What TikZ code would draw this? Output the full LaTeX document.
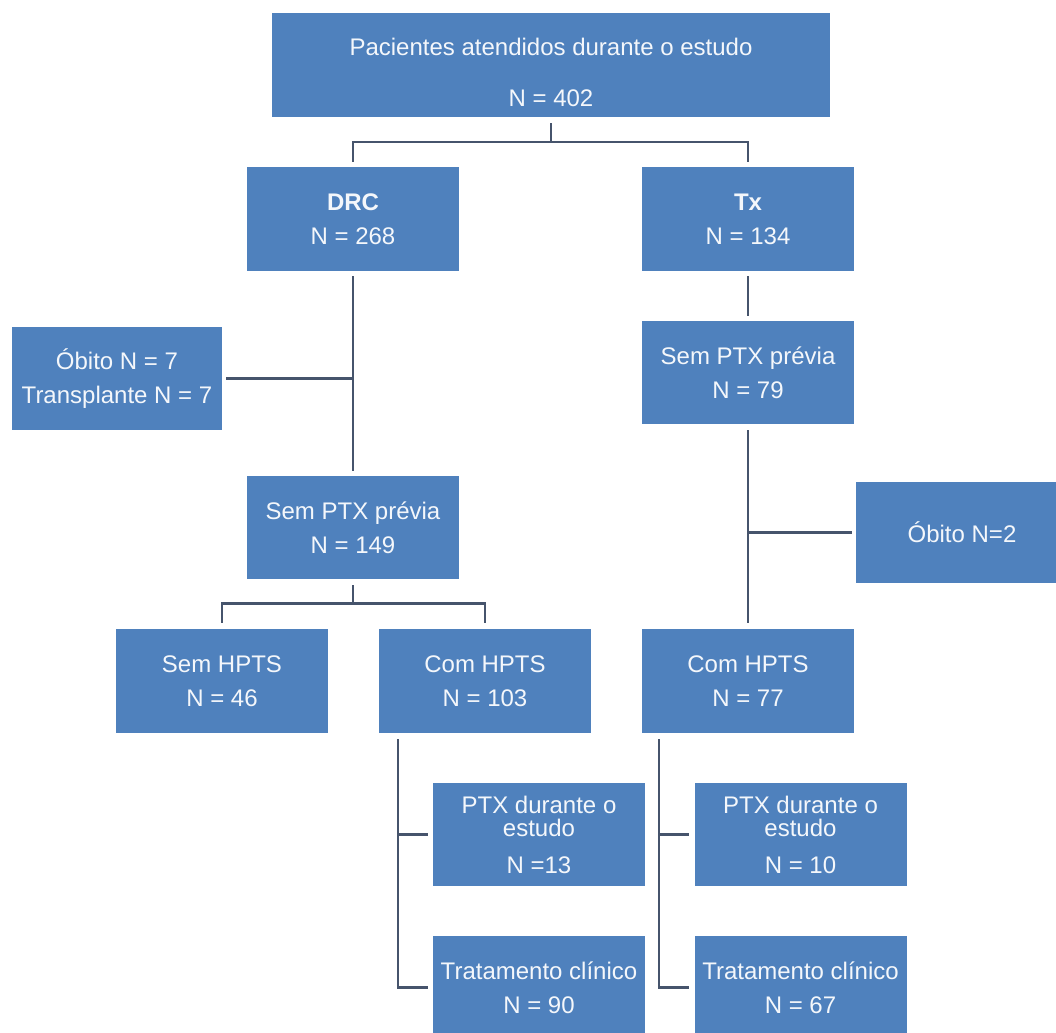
\documentclass[tikz,border=0pt]{standalone}
\usepackage{fontspec}
\setmainfont{Liberation Sans}
\definecolor{boxblue}{RGB}{79, 129, 189}
\definecolor{linkgray}{RGB}{70, 84, 108}
\definecolor{boxtext}{RGB}{244, 247, 251}
\usetikzlibrary{positioning, calc}

\begin{document}
\begin{tikzpicture}[x=1pt, y=-1pt,
    flowbox/.style={fill=boxblue, draw=none, minimum width=212pt, minimum height=104pt,
      inner sep=0pt, align=center, text=boxtext, font=\fontsize{24}{34}\selectfont},
    link/.style={draw=linkgray, line width=2.6pt}]
  \useasboundingbox (0,0) rectangle (1056,1032);
  \clip (0,0) rectangle (1056,1032);

  % boxes
  \node[flowbox, minimum width=558pt] (total) at (551,65) {\rule{0pt}{31.5pt}Pacientes atendidos durante o estudo\\[17pt]N = 402};
  \node[flowbox] (drc) at (353,219) {\textbf{DRC}\\N = 268};
  \node[flowbox] (tx) at (748,219) {\textbf{Tx}\\N = 134};
  \node[flowbox, minimum width=210pt, minimum height=103pt] (obitoA) at (117,378.5) {Óbito N = 7\\Transplante N = 7};
  \node[flowbox, minimum height=103pt] (semptxA) at (353,527.5) {Sem PTX prévia\\N = 149};
  \node[flowbox, minimum height=103pt] (semptxB) at (748,372.5) {Sem PTX prévia\\N = 79};
  \node[flowbox, minimum height=101pt] (obitoB) at (962,532.5) {Óbito N=2};
  \node[flowbox] (semhpts) at (222,681) {Sem HPTS\\N = 46};
  \node[flowbox] (comA) at (485,681) {Com HPTS\\N = 103};
  \node[flowbox] (comB) at (748,681) {Com HPTS\\N = 77};
  \node[flowbox, minimum height=103pt] (ptxA) at (539,834.5) {PTX durante o\\[-11pt]estudo\\[3pt]N =13};
  \node[flowbox, minimum height=103pt] (ptxB) at (800.5,834.5) {PTX durante o\\[-11pt]estudo\\[3pt]N = 10};
  \node[flowbox, minimum height=103pt] (tratA) at (539,987.5) {Tratamento clínico\\N = 90};
  \node[flowbox, minimum height=103pt] (tratB) at (800.5,987.5) {Tratamento clínico\\N = 67};

  % connectors
  \draw[link] ([yshift=-6pt]total.south) -- ++(0,19) coordinate (splitTop);
  \draw[link] ([yshift=5pt]drc.north) |- (splitTop) -| ([yshift=5pt]tx.north);

  \draw[link] ([yshift=-5pt]drc.south) -- ([yshift=5pt]semptxA.north);
  \draw[link] ([xshift=4pt]obitoA.east) -- (obitoA.east -| drc.south);

  \draw[link] ([yshift=-5pt]tx.south) -- ([yshift=5pt]semptxB.north);
  \draw[link] ([yshift=-6pt]semptxB.south) -- ([yshift=6pt]comB.north);
  \draw[link] ([xshift=-4pt]obitoB.west) -- (obitoB.west -| semptxB.south);

  \draw[link] ([yshift=-6pt]semptxA.south) -- ++(0,18) coordinate (splitA);
  \draw[link] ([yshift=6pt]semhpts.north) |- (splitA) -| ([yshift=6pt]comA.north);

  \coordinate (railA) at ([xshift=19pt, yshift=-6pt]comA.south west);
  \draw[link] (railA) |- ([xshift=-5pt]tratA.west);
  \draw[link] (railA |- ptxA.west) -- ([xshift=-5pt]ptxA.west);

  \coordinate (railB) at ([xshift=17pt, yshift=-6pt]comB.south west);
  \draw[link] (railB) |- ([xshift=-5pt]tratB.west);
  \draw[link] (railB |- ptxB.west) -- ([xshift=-5pt]ptxB.west);
\end{tikzpicture}
\end{document}
